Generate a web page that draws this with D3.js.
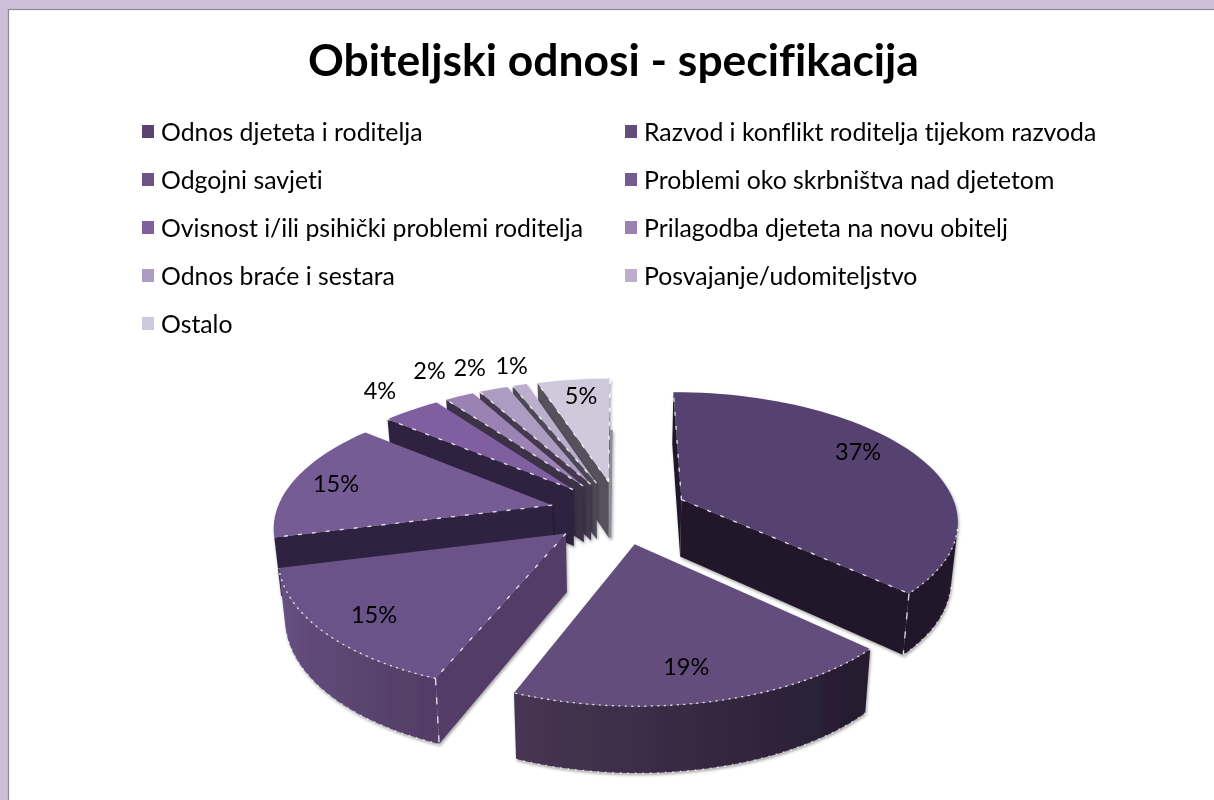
<!DOCTYPE html>
<html><head><meta charset="utf-8">
<script src="https://cdn.jsdelivr.net/npm/d3@7"></script>
<style>
html,body{margin:0;padding:0;background:#fff;overflow:hidden}
svg{display:block;filter:blur(0.35px)}
text{font-family:Lato,"Open Sans",sans-serif;fill:#000;font-variant-ligatures:none}
</style></head><body>
<script>
// ---------- data ----------
const titleText = "Obiteljski odnosi - specifikacija";
const categories = ["Odnos djeteta i roditelja","Razvod i konflikt roditelja tijekom razvoda","Odgojni savjeti","Problemi oko skrbništva nad djetetom","Ovisnost i/ili psihički problemi roditelja","Prilagodba djeteta na novu obitelj","Odnos braće i sestara","Posvajanje/udomiteljstvo","Ostalo"];
const values = [37,19,15,15,4,2,2,1,5];
const topColors  = ["#574270","#634d7c","#6b5388","#755b94","#7f5f9f","#9a82b3","#ad9cc2","#bcafcc","#cfc9dc"];
const wallColors = ["#221829","#2a1f33","#533e68","#2f2440","#2f2440","#3a3046","#45394f","#4e4856","#56515c"];
const arcStart   = ["#221829","#241a2e","#523d66","#2f2440","#2f2440","#3a3046","#45394f","#4e4856","#56515c"];
const arcEnd     = ["#221829","#463653","#6a5486","#2f2440","#2f2440","#3a3046","#45394f","#4e4856","#56515c"];

// ---------- layout ----------
const W=1214,H=800;
const cam={cx:619,cy:512,Rx:276,Ry:127,p:0.15,depth:57.5,shrink:0.02,explode:0.25};
const labelRadius=[0.75,0.806,0.844,0.85,1.276,1.328,1.26,1.227,0.821];
const labelShift=[[0,-10],[-8,2],[9,2],[3,3],[8,2],[5,2],[-2,2],[7,2],[2,2]];
const legendCols=[142,625], legendRows=[132,180,228,276,324];
const farStrip={width:2.6,color:"#8f8d93"};

const svg=d3.select("body").append("svg").attr("width",W).attr("height",H);
const defs=svg.append("defs");
const f=defs.append("filter").attr("id","shadow").attr("x","-10%").attr("y","-10%").attr("width","120%").attr("height","125%");
f.append("feDropShadow").attr("dx",1).attr("dy",2).attr("stdDeviation",1.6).attr("flood-color","#000").attr("flood-opacity",0.35);

// page frame
svg.append("rect").attr("x",-4).attr("y",-4).attr("width",W+8).attr("height",H+8).attr("fill","#cdbfd9");
svg.append("rect").attr("x",8.5).attr("y",9.5).attr("width",W+8).attr("height",H+8).attr("fill","#fff").attr("stroke","#8a8a8a").attr("stroke-width",1.2);

// title
svg.append("text").attr("x",613.5).attr("y",76).attr("text-anchor","middle")
  .style("font-size","44.4px").style("font-weight",700).text(titleText);

// legend
const lg=svg.append("g").selectAll("g").data(categories).join("g")
  .attr("transform",(d,i)=>`translate(${legendCols[i%2]},${legendRows[Math.floor(i/2)]})`);
lg.append("rect").attr("x",0).attr("y",-7).attr("width",12).attr("height",13).attr("fill",(d,i)=>topColors[i]);
lg.append("text").attr("x",19).attr("y",9).style("font-size","24.8px").text(d=>d);

// projection
function project(X,Y,Z){
  const s=1/(1-cam.p*Y), k=1-cam.shrink*Z;
  return [cam.cx+cam.Rx*X*s*k, cam.cy+cam.Ry*Y*s*k+cam.depth*Z*s];
}
const pie=d3.pie().sort(null).value(d=>d);
const arcs=pie(values).map((a,i)=>{
  const mid=(a.startAngle+a.endAngle)/2;
  return {...a,i,mid,ox:cam.explode*Math.sin(mid),oy:-cam.explode*Math.cos(mid)};
});
const line=d3.line();
const pt=(a,r,ang,Z)=>project(a.ox+r*Math.sin(ang),a.oy-r*Math.cos(ang),Z);
const crossS=(p,q,r)=>(q[0]-p[0])*(r[1]-p[1])-(q[1]-p[1])*(r[0]-p[0]);
function visibleWall(pTop,qTop,pBot,inner){
  return crossS(pTop,qTop,pBot)*crossS(pTop,qTop,inner)<0;
}
const chart=svg.append("g");
const order=[...arcs].sort((a,b)=>(-Math.cos(a.mid)*0.6+a.oy)-(-Math.cos(b.mid)*0.6+b.oy));
const dash=(sel,pts,pattern,op)=>sel.append("path").attr("d",line(pts)).attr("fill","none").attr("stroke","#fff")
  .attr("stroke-width",1.4).attr("stroke-dasharray",pattern).attr("stroke-opacity",op);

order.forEach(a=>{
  const g=chart.append("g").attr("filter","url(#shadow)");
  const n=Math.max(4,Math.round((a.endAngle-a.startAngle)/0.04));
  const angs=d3.range(n+1).map(j=>a.startAngle+(a.endAngle-a.startAngle)*j/n);
  const apexT=pt(a,0,0,0), apexB=pt(a,0,0,1);
  const inner=pt(a,0.6,a.mid,0);
  const marks=[];
  const radialVisible=new Set();
  // radial walls
  [a.startAngle,a.endAngle].forEach(ang=>{
    const qT=pt(a,1,ang,0), qB=pt(a,1,ang,1);
    if(visibleWall(apexT,qT,apexB,inner)){
      g.append("path").attr("d",line([apexT,qT,qB,apexB])+"Z").attr("fill",wallColors[a.i]);
      marks.push([[apexT,qT],"4 10",0.8]);
      radialVisible.add(ang);
    }
  });
  // thin edge seen on the far side of the last slice
  if(a.i===values.length-1){
    const qB=pt(a,1,a.endAngle,1);
    g.append("path").attr("d",line([qB,[qB[0]+farStrip.width,qB[1]],[apexB[0]+farStrip.width,apexB[1]],apexB])+"Z").attr("fill",farStrip.color);
  }
  // outer wall as a single shape, shaded along screen x
  const shade=d3.scaleLinear().domain([a.startAngle,a.endAngle]).range([arcStart[a.i],arcEnd[a.i]]).interpolate(d3.interpolateRgb);
  const runA=angs.filter((u,j)=>{
    const v=angs[j+1]??u, w=angs[j-1]??u;
    const seen=(p,q)=>p!==q&&visibleWall(pt(a,1,p,0),pt(a,1,q,0),pt(a,1,p,1),apexT);
    return seen(u,v)||seen(w,u);
  });
  if(runA.length>1){
    const topRun=runA.map(t=>pt(a,1,t,0)), botRun=runA.map(t=>pt(a,1,t,1));
    const x0=topRun[0][0], x1=topRun[topRun.length-1][0];
    const id="arcfill"+a.i;
    const grad=defs.append("linearGradient").attr("id",id).attr("gradientUnits","userSpaceOnUse")
      .attr("x1",x0).attr("x2",x1).attr("y1",0).attr("y2",0);
    runA.forEach((t,j)=>grad.append("stop").attr("offset",(topRun[j][0]-x0)/(x1-x0)).attr("stop-color",shade(t)));
    g.append("path").attr("d",line([...topRun,...botRun.slice().reverse()])+"Z").attr("fill",`url(#${id})`);
    marks.push([topRun,"2 4.5",0.8]);
    marks.push([botRun,"1.5 6",0.55]);
    [runA[0],runA[runA.length-1]].forEach(t=>{
      if(radialVisible.has(t)) marks.push([[pt(a,1,t,0),pt(a,1,t,1)],"7 12",0.8]);
    });
  }
  // top
  const poly=[apexT,...angs.map(t=>pt(a,1,t,0))];
  g.append("path").attr("d",line(poly)+"Z").attr("fill",topColors[a.i]);
  marks.forEach(([d,p,o])=>dash(g,d,p,o));
});

// labels
svg.append("g").selectAll("text").data(arcs).join("text")
  .attr("text-anchor","middle").attr("dominant-baseline","middle")
  .attr("x",a=>pt(a,labelRadius[a.i],a.mid,0)[0]+labelShift[a.i][0])
  .attr("y",a=>pt(a,labelRadius[a.i],a.mid,0)[1]+labelShift[a.i][1])
  .style("font-size","23.5px").text(a=>a.value+"%");
</script>
</body></html>
